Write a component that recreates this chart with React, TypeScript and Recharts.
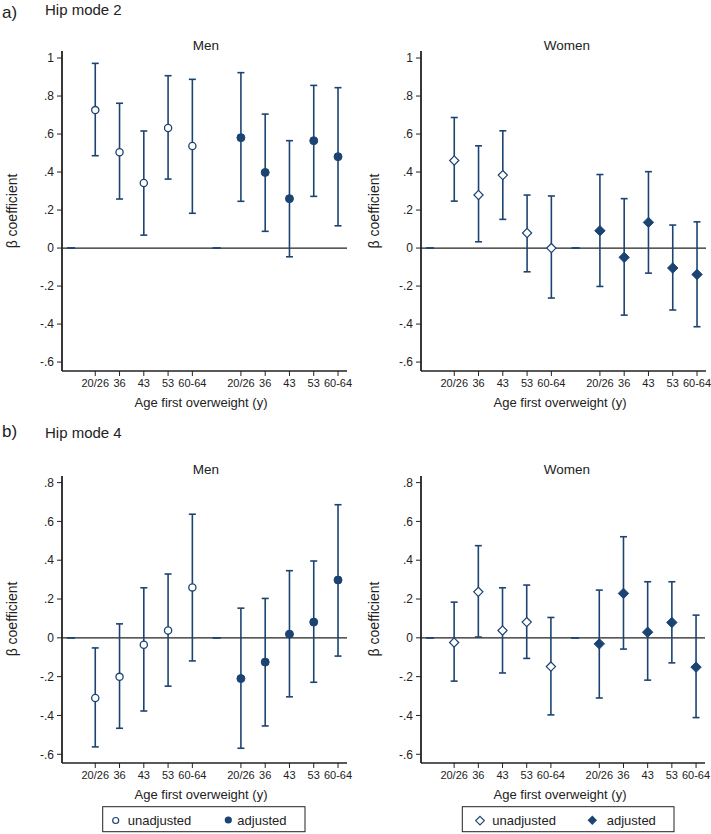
import React from "react";
import { ScatterChart, Scatter, XAxis, YAxis, ErrorBar, ReferenceLine } from "recharts";

// ---- data ----
const ageLabels = ["20/26", "36", "43", "53", "60-64"];
// each entry: [estimate, lower CI, upper CI]
const menHip2Unadj = [[0.726, 0.486, 0.972], [0.504, 0.258, 0.762], [0.342, 0.068, 0.616], [0.632, 0.363, 0.907], [0.537, 0.183, 0.888]];
const menHip2Adj = [[0.581, 0.246, 0.923], [0.398, 0.088, 0.705], [0.26, -0.046, 0.565], [0.565, 0.272, 0.856], [0.481, 0.117, 0.844]];
const womenHip2Unadj = [[0.461, 0.247, 0.687], [0.279, 0.033, 0.538], [0.384, 0.151, 0.617], [0.079, -0.125, 0.279], [0.0, -0.263, 0.274]];
const womenHip2Adj = [[0.091, -0.202, 0.387], [-0.049, -0.353, 0.26], [0.135, -0.132, 0.402], [-0.105, -0.326, 0.121], [-0.139, -0.414, 0.138]];
const menHip4Unadj = [[-0.31, -0.562, -0.052], [-0.201, -0.466, 0.072], [-0.036, -0.377, 0.258], [0.038, -0.249, 0.329], [0.26, -0.119, 0.637]];
const menHip4Adj = [[-0.21, -0.569, 0.153], [-0.125, -0.454, 0.203], [0.019, -0.304, 0.346], [0.081, -0.229, 0.396], [0.298, -0.094, 0.686]];
const womenHip4Unadj = [[-0.024, -0.223, 0.184], [0.237, 0.004, 0.475], [0.038, -0.181, 0.258], [0.081, -0.106, 0.272], [-0.148, -0.397, 0.105]];
const womenHip4Adj = [[-0.031, -0.31, 0.246], [0.229, -0.058, 0.521], [0.029, -0.218, 0.289], [0.079, -0.129, 0.289], [-0.151, -0.411, 0.117]];
const referenceLevel = 0; // reference category (shown at the start of each group)
const yTicksHip2 = [-0.6, -0.4, -0.2, 0, 0.2, 0.4, 0.6, 0.8, 1];
const yTicksHip4 = [-0.6, -0.4, -0.2, 0, 0.2, 0.4, 0.6, 0.8];

const NAVY = "#1c4472";
const AXIS = "#222";
const FONT = "'Liberation Sans', Arial, sans-serif";
const NARROW = "'Liberation Sans Narrow', 'Liberation Sans', Arial, sans-serif";

const fmtY = (v: number) => {
  if (Math.abs(v) < 1e-9) return "0";
  const a = Math.abs(v);
  const s = a >= 0.999 ? "1" : a.toFixed(1).replace(/^0/, "");
  return (v < 0 ? "-" : "") + s;
};

const xLabel = (v: number) => {
  const i = Math.round(v);
  if (i >= 1 && i <= 5) return ageLabels[i - 1];
  if (i >= 7 && i <= 11) return ageLabels[i - 7];
  return "";
};

function build(rows: number[][], offset: number) {
  return rows.map((r, i) => ({ x: i + offset, y: r[0], err: [r[0] - r[1], r[2] - r[0]] }));
}

const makeShape = (kind: "circle" | "diamond", filled: boolean) => (props: any) => {
  const { cx, cy, payload } = props;
  if (payload && payload.isRef) return <g />;
  if (kind === "circle") {
    return filled ? (
      <circle cx={cx} cy={cy} r={4} fill={NAVY} stroke={NAVY} strokeWidth={1} />
    ) : (
      <circle cx={cx} cy={cy} r={3.6} fill="#fff" stroke={NAVY} strokeWidth={1.3} />
    );
  }
  const s = filled ? 5.2 : 4.6;
  const d = `M${cx},${cy - s}L${cx + s},${cy}L${cx},${cy + s}L${cx - s},${cy}Z`;
  return filled ? (
    <path d={d} fill={NAVY} stroke={NAVY} strokeWidth={1} />
  ) : (
    <path d={d} fill="#fff" stroke={NAVY} strokeWidth={1.2} />
  );
};

type PanelProps = {
  left: number; top: number; width: number; height: number;
  x0: number; x1: number; y0: number; y1: number;
  domainY: [number, number]; ticksY: number[];
  unadj: number[][]; adj: number[][]; kind: "circle" | "diamond";
};

function Panel(p: PanelProps) {
  const refData = [
    { x: 0, y: referenceLevel, err: [0, 0], isRef: true },
    { x: 6, y: referenceLevel, err: [0, 0], isRef: true },
  ];
  const xAxisH = 30;
  return (
    <div style={{ position: "absolute", left: p.left, top: p.top }}>
      <ScatterChart
        width={p.width}
        height={p.height}
        margin={{ top: p.y0, left: 0, right: p.width - p.x1, bottom: p.height - p.y1 - xAxisH }}
      >
        <XAxis
          type="number"
          dataKey="x"
          domain={[-0.37, 11.37]}
          allowDataOverflow
          ticks={[1, 2, 3, 4, 5, 7, 8, 9, 10, 11]}
          tickFormatter={xLabel}
          interval={0}
          height={xAxisH}
          tickSize={5}
          tickMargin={3}
          axisLine={{ stroke: AXIS, strokeWidth: 1.5 }}
          tickLine={{ stroke: AXIS, strokeWidth: 1 }}
          tick={{ fontSize: 11, fill: "#222", fontFamily: NARROW }}
        />
        <YAxis
          type="number"
          dataKey="y"
          domain={p.domainY}
          allowDataOverflow
          ticks={p.ticksY}
          tickFormatter={fmtY}
          interval={0}
          width={p.x0}
          tickSize={5}
          tickMargin={3}
          axisLine={{ stroke: AXIS, strokeWidth: 1.8 }}
          tickLine={{ stroke: AXIS, strokeWidth: 1 }}
          tick={{ fontSize: 12, fill: "#222", fontFamily: FONT }}
        />
        <ReferenceLine y={0} stroke={AXIS} strokeWidth={1.2} />
        <Scatter data={refData} isAnimationActive={false} shape={makeShape(p.kind, false)}>
          <ErrorBar dataKey="err" direction="y" width={4} stroke={NAVY} strokeWidth={1.5} />
        </Scatter>
        <Scatter data={build(p.unadj, 1)} isAnimationActive={false} shape={makeShape(p.kind, false)}>
          <ErrorBar dataKey="err" direction="y" width={3.5} stroke={NAVY} strokeWidth={1.6} />
        </Scatter>
        <Scatter data={build(p.adj, 7)} isAnimationActive={false} shape={makeShape(p.kind, true)}>
          <ErrorBar dataKey="err" direction="y" width={3.5} stroke={NAVY} strokeWidth={1.6} />
        </Scatter>
      </ScatterChart>
    </div>
  );
}

function BetaLabel({ x, y }: { x: number; y: number }) {
  return (
    <text x={x} y={y} transform={`rotate(-90 ${x} ${y})`} textAnchor="middle" dominantBaseline="central" fontSize={14} fill="#222" fontFamily={FONT}>
      β coefficient
    </text>
  );
}

export default function App() {
  const topDomain: [number, number] = [-0.647, 1.037];
  const botDomain: [number, number] = [-0.645, 0.834];
  return (
    <div style={{ position: "absolute", left: 0, top: 0, width: 711, height: 834, background: "#fff", overflow: "hidden" }}>
      <Panel left={0} top={0} width={355} height={420} x0={62} x1={347} y0={51} y1={371}
        domainY={topDomain} ticksY={yTicksHip2} unadj={menHip2Unadj} adj={menHip2Adj} kind="circle" />
      <Panel left={355} top={0} width={356} height={420} x0={66} x1={351} y0={51} y1={371}
        domainY={topDomain} ticksY={yTicksHip2} unadj={womenHip2Unadj} adj={womenHip2Adj} kind="diamond" />
      <Panel left={0} top={420} width={355} height={414} x0={62} x1={347} y0={56} y1={343}
        domainY={botDomain} ticksY={yTicksHip4} unadj={menHip4Unadj} adj={menHip4Adj} kind="circle" />
      <Panel left={355} top={420} width={356} height={414} x0={66} x1={350} y0={56} y1={343}
        domainY={botDomain} ticksY={yTicksHip4} unadj={womenHip4Unadj} adj={womenHip4Adj} kind="diamond" />
      <svg width={711} height={834} style={{ position: "absolute", left: 0, top: 0, pointerEvents: "none" }}>
        <g fontFamily={FONT} fill="#222">
          <text x={2} y={18} fontSize={17}>a)</text>
          <text x={45} y={15} fontSize={15}>Hip mode 2</text>
          <text x={2} y={437} fontSize={17}>b)</text>
          <text x={45} y={438} fontSize={15}>Hip mode 4</text>
          <text x={206} y={49.5} fontSize={13.5} textAnchor="middle">Men</text>
          <text x={567} y={50} fontSize={13.5} textAnchor="middle">Women</text>
          <text x={206} y={474} fontSize={13.5} textAnchor="middle">Men</text>
          <text x={567} y={474} fontSize={13.5} textAnchor="middle">Women</text>
          <text x={201} y={407} fontSize={13} textAnchor="middle">Age first overweight (y)</text>
          <text x={560} y={407} fontSize={13} textAnchor="middle">Age first overweight (y)</text>
          <text x={201} y={799} fontSize={13} textAnchor="middle">Age first overweight (y)</text>
          <text x={560} y={799} fontSize={13} textAnchor="middle">Age first overweight (y)</text>
        </g>
        <BetaLabel x={12} y={211} />
        <BetaLabel x={374} y={211} />
        <BetaLabel x={12} y={619} />
        <BetaLabel x={374} y={619} />
        {/* legends */}
        <g fontFamily={FONT} fontSize={13} fill="#222">
          <rect x={102.7} y={806.7} width={202.3} height={25} fill="#fff" stroke="#222" strokeWidth={1} />
          <circle cx={115.7} cy={820.5} r={3} fill="#fff" stroke={NAVY} strokeWidth={1.2} />
          <text x={127.7} y={824.5}>unadjusted</text>
          <circle cx={228.3} cy={820} r={3.6} fill={NAVY} />
          <text x={237.3} y={824.5}>adjusted</text>
          <rect x={462.3} y={806.7} width={211.7} height={25} fill="#fff" stroke="#222" strokeWidth={1} />
          <path d="M480,816.3L484.3,820.6L480,824.9L475.7,820.6Z" fill="#fff" stroke={NAVY} strokeWidth={1.2} />
          <text x={492.3} y={824.5}>unadjusted</text>
          <path d="M592.3,815.5L597,820.2L592.3,824.9L587.6,820.2Z" fill={NAVY} />
          <text x={606.7} y={824.5}>adjusted</text>
        </g>
      </svg>
    </div>
  );
}
